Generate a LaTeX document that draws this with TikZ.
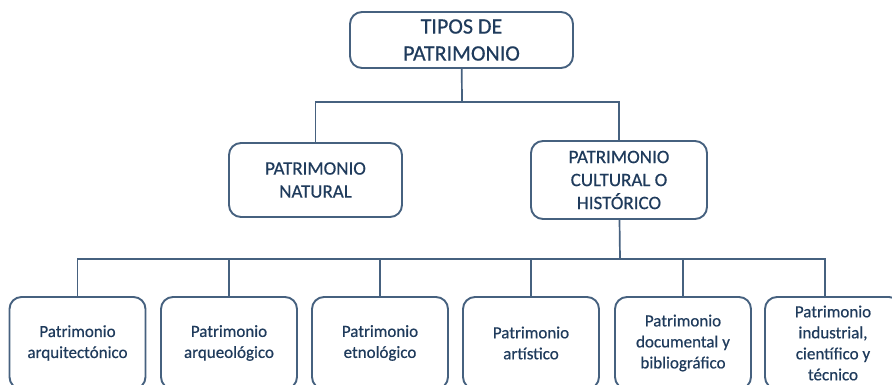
\documentclass[tikz,border=0pt]{standalone}
\usepackage{fontspec}
\setmainfont{Carlito}
\newfontface\heavy{Carlito}[FakeBold=0.5]
\definecolor{txt}{HTML}{1F3B5C}
\definecolor{edge}{HTML}{46617F}
\begin{document}
\begin{tikzpicture}[x=1pt,y=-1pt,
  box/.style={draw=edge, line width=1.9pt, rounded corners=12pt, fill=white,
    text=txt, align=center, inner sep=0pt},
  topbox/.style={box, minimum width=223pt, minimum height=56pt, font=\heavy\fontsize{22}{27}\selectfont},
  midbox/.style={box, minimum width=174pt, minimum height=76pt, font=\heavy\fontsize{19}{23}\selectfont},
  lowbox/.style={box, minimum width=136pt, minimum height=92pt, font=\heavy\fontsize{17}{21}\selectfont},
  link/.style={draw=edge, line width=1.7pt}]
\useasboundingbox (0,0) rectangle (892,384);
\begin{scope}
\clip (0,0) rectangle (892,384);
\node[topbox] (top) at (461.5,40) {TIPOS DE\\PATRIMONIO};
\node[midbox, minimum width=173pt, minimum height=74pt] (nat) at (315.5,180) {PATRIMONIO\\NATURAL};
\node[midbox, minimum width=176pt, minimum height=78pt] (cul) at (619,180) {PATRIMONIO\\CULTURAL O\\HISTÓRICO};
\coordinate (j1) at (462,102);
\coordinate (j2) at (620,259);
\node[lowbox] (b1) at (77.5,343) {Patrimonio\\arquitectónico};
\node[lowbox] (b2) at (229,343) {Patrimonio\\arqueológico};
\node[lowbox] (b3) at (380,343) {Patrimonio\\etnológico};
\node[lowbox] (b4) at (531,343) {Patrimonio\\artístico};
\node[lowbox] (b5) at (683,343) {Patrimonio\\documental y\\bibliográfico};
\node[lowbox] (b6) at (833,343) {Patrimonio\\industrial,\\científico y\\técnico};
\draw[link] (top) -- (j1);
\draw[link] (j1) -| (nat);
\draw[link] (j1) -| (cul);
\draw[link] (cul) -- (j2);
\foreach \b in {b1,b2,b3,b4,b5} \draw[link] (j2) -| (\b);
\draw[link] (j2) -| ([xshift=-8pt]b6.north);
\end{scope}
\end{tikzpicture}
\end{document}
